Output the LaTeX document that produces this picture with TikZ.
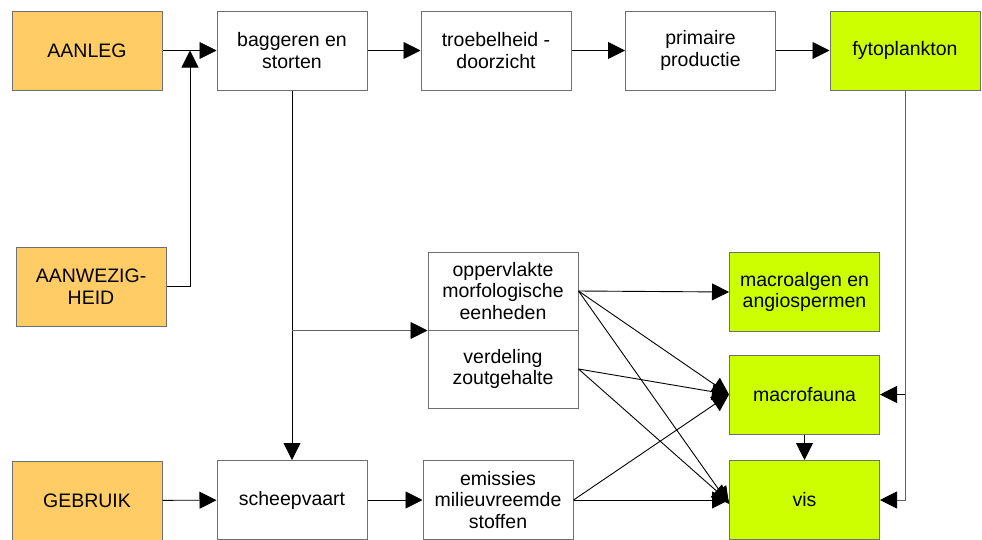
\documentclass[tikz,border=0pt]{standalone}
\usepackage{fontspec}
\setmainfont{Liberation Sans}
\usetikzlibrary{arrows.meta}
\definecolor{srcfill}{HTML}{FFCC66}
\definecolor{bioFill}{HTML}{CCFF00}
\definecolor{edgegray}{HTML}{707070}
\definecolor{wiregray}{HTML}{606060}
\begin{document}
\begin{tikzpicture}[x=1pt,y=-1pt,
  box/.style={draw=edgegray,line width=1pt,minimum width=150pt,minimum height=79pt,
    inner sep=0pt,align=center,font=\fontsize{19.5}{21.5}\selectfont},
  source/.style={box,fill=srcfill},
  effect/.style={box,fill=bioFill},
  process/.style={box,fill=white},
  link/.style={line width=0.9pt,-{Triangle[length=17pt,width=17pt,color=black]}},
  plain/.style={line width=0.9pt}]
\useasboundingbox (0,0) rectangle (982,539);
\clip (0,0) rectangle (982,539);
\fill[white] (0,0) rectangle (982,539);

% top row
\node[source]  (aanleg)   at (87,50.5)   {AANLEG};
\node[process] (bagger)   at (292,50.5)  {baggeren en\\storten};
\node[process] (troebel)  at (496,50.5)  {troebelheid -\\doorzicht};
\node[process] (primair)  at (700.5,50.5){primaire\\productie};
\node[effect]  (fyto)     at (905,50.5)  {fytoplankton};

% left column
\node[source]  (aanwezig) at (91,286.5)  {AANWEZIG-\\HEID};
\node[source]  (gebruik)  at (87,500.5)  {GEBRUIK};
\node[process] (scheep)   at (292,500)   {scheepvaart};
\node[process] (emis)     at (498,500)   {emissies\\milieuvreemde\\stoffen};

% morphology / salinity block
\node[process,minimum height=78pt] (opp)  at (503,291) {oppervlakte\\morfologische\\eenheden};
\node[process,minimum height=78pt] (verd) at (503,369) {verdeling\\zoutgehalte};

% biological compartments
\node[effect] (algen)  at (804.5,292)   {macroalgen en\\angiospermen};
\node[effect] (fauna)  at (804.5,394.5) {macrofauna};
\node[effect] (vis)    at (804.5,500)   {vis};

% junctions
\coordinate (jA) at (190,50.5);
\coordinate (jB) at (bagger.south |- opp.south west);
\coordinate (jF) at (fyto.south |- fauna.east);

% main chain
\draw[link] (aanleg) -- (bagger);
\draw[link] (aanwezig.east) -| (jA);
\draw[link] (bagger) -- (troebel);
\draw[link] (troebel) -- (primair);
\draw[link] (primair) -- (fyto);
\draw[link] (bagger) -- (scheep);
\draw[link,draw=wiregray] (jB) -- (opp.south west);
\draw[link] (gebruik) -- (scheep);
\draw[link] (scheep) -- (emis);

% phytoplankton feed
\draw[plain,draw=wiregray] (fyto.south) -- (jF);
\draw[link,draw=wiregray] (jF) |- (vis.east);
\draw[link] (jF) -- (fauna.east);

% cross links
\draw[link] (opp.east) -- (algen.west);
\draw[link] (opp.east) -- (fauna.west);
\draw[link] (opp.east) -- ([yshift=-4pt]vis.west);
\draw[link] (verd.east) -- (fauna.west);
\draw[link] (verd.east) -- ([yshift=-2pt]vis.west);
\draw[link] (emis.east) -- (fauna.west);
\draw[link] (emis.east) -- (vis.west);
\draw[link] (fauna) -- (vis);
\end{tikzpicture}
\end{document}
